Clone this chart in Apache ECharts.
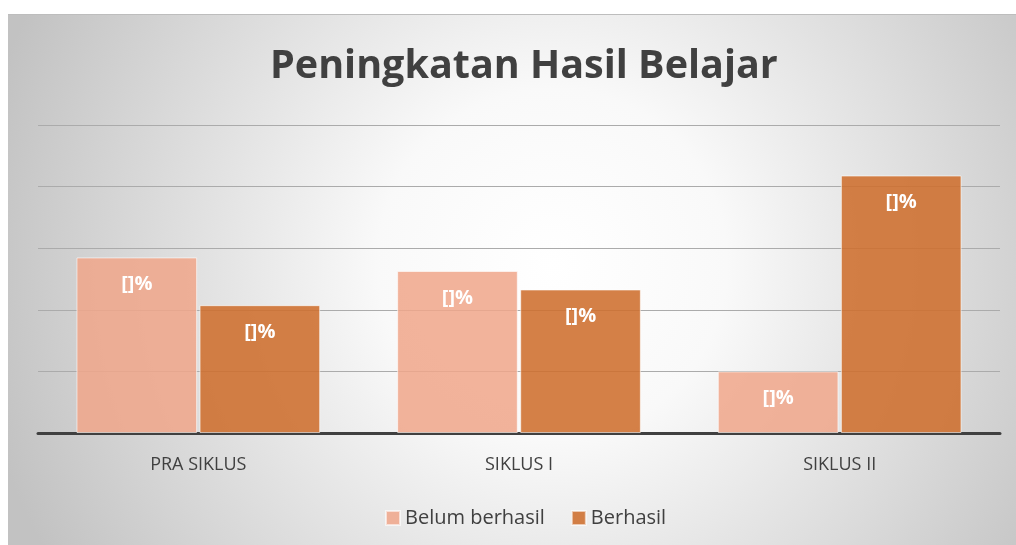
<!DOCTYPE html>
<html>
<head>
<meta charset="utf-8">
<script src="https://cdn.jsdelivr.net/npm/echarts@6/dist/echarts.min.js"></script>
<style>
    html, body { margin: 0; padding: 0; background: #ffffff; }
    #chart {
        position: absolute;
        left: 8px;
        top: 14px;
        width: 1008px;
        height: 531px;
        border-top: 1px solid #bdbdbd;
        box-sizing: border-box;
    }
</style>
</head>
<body>
<div id="chart"></div>
<script>
    let categories = ['PRA SIKLUS', 'SIKLUS I', 'SIKLUS II'];
    let belumBerhasil = [57, 52.6, 20];
    let berhasil = [41.5, 46.6, 83.6];

    let chart = echarts.init(document.getElementById('chart'));

    // label text is broken in the original, kept as is
    let barLabel = {
        show: true,
        position: 'insideTop',
        distance: 17,
        formatter: '[]%',
        color: '#ffffff',
        fontSize: 20,
        fontWeight: 'bold',
        fontFamily: 'Open Sans'
    };

    let option = {
        backgroundColor: {
            type: 'radial',
            x: 0.54, y: 0.47, r: 1.1,
            colorStops: [
                {offset: 0, color: '#ffffff'},
                {offset: 0.3, color: '#f9f9f9'},
                {offset: 1, color: '#c2c2c2'}
            ]
        },
        title: {
            text: 'Peningkatan Hasil Belajar',
            left: 257,
            top: 27,
            textStyle: {
                color: '#404040',
                fontSize: 39.5,
                fontWeight: 'bold',
                fontFamily: 'Open Sans'
            }
        },
        legend: {
            data: ['Belum berhasil', 'Berhasil'],
            bottom: 12,
            left: 372,
            itemWidth: 14,
            itemHeight: 14,
            itemGap: 26,
            icon: 'rect',
            textStyle: {
                color: '#404040',
                fontSize: 20,
                fontFamily: 'Open Sans'
            }
        },
        grid: {
            left: 30,
            right: 16,
            top: 110,
            bottom: 112
        },
        xAxis: {
            type: 'category',
            data: categories,
            axisTick: {show: false},
            axisLine: {
                lineStyle: {color: '#404040', width: 3}
            },
            axisLabel: {
                color: '#404040',
                fontSize: 18,
                margin: 23,
                fontFamily: 'Open Sans'
            }
        },
        yAxis: {
            type: 'value',
            min: 0,
            max: 100,
            interval: 20,
            axisLabel: {show: false},
            axisLine: {show: false},
            axisTick: {show: false},
            splitLine: {
                lineStyle: {color: '#ababab', width: 1}
            }
        },
        series: [
            {
                name: 'Belum berhasil',
                type: 'bar',
                data: belumBerhasil,
                barGap: '2%',
                barCategoryGap: '24%',
                itemStyle: {
                    color: 'rgba(240,166,138,0.85)',
                    borderColor: 'rgba(255,255,255,0.6)',
                    borderWidth: 1
                },
                label: barLabel
            },
            {
                name: 'Berhasil',
                type: 'bar',
                data: berhasil,
                itemStyle: {
                    color: 'rgba(206,110,46,0.88)',
                    borderColor: 'rgba(255,255,255,0.6)',
                    borderWidth: 1
                },
                label: barLabel
            }
        ]
    };

    chart.setOption(option);
</script>
</body>
</html>
